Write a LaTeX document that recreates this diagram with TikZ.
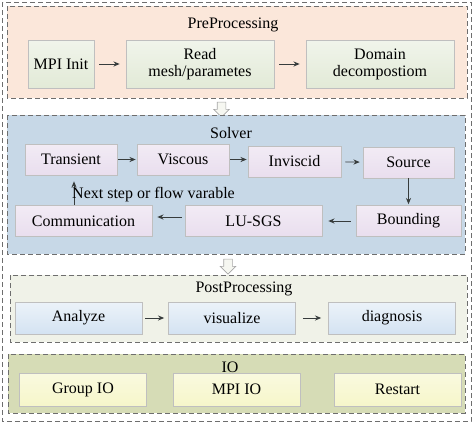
\documentclass[tikz,border=0pt]{standalone}
\usepackage{fontspec}
\setmainfont{Liberation Serif}
\usepackage{tikz}
\usetikzlibrary{arrows.meta,positioning,shapes.arrows}
\definecolor{frame}{RGB}{110,110,110}
\definecolor{ink}{RGB}{55,60,60}
\definecolor{prefill}{RGB}{251,231,218}
\definecolor{prebox}{RGB}{226,234,215}
\definecolor{solfill}{RGB}{199,216,231}
\definecolor{solbox}{RGB}{233,222,238}
\definecolor{postfill}{RGB}{240,242,232}
\definecolor{postbox}{RGB}{212,227,242}
\definecolor{iofill}{RGB}{214,220,182}
\definecolor{iobox}{RGB}{246,246,202}

\begin{document}
\begin{tikzpicture}[
  x=1pt, y=-1pt,
  font=\fontsize{16}{17}\selectfont,
  panel/.style={draw=frame, dashed, line width=0.9pt, dash pattern=on 5pt off 3pt},
  box/.style={draw=black!25, line width=0.6pt, align=center, inner sep=2pt},
  prestep/.style={box, top color=prebox!50, bottom color=prebox, minimum width=148pt, minimum height=48pt},
  solstep/.style={box, top color=solbox!60, bottom color=solbox, minimum height=31pt},
  poststep/.style={box, top color=postbox!45, bottom color=postbox, minimum width=127pt, minimum height=32pt},
  iostep/.style={box, top color=iobox!60, bottom color=iobox, minimum width=127pt, minimum height=33pt},
  arr/.style={-{Stealth[length=2.2mm,width=1.8mm]}, line width=0.9pt, ink, shorten <=5pt, shorten >=6pt},
  flow/.style={single arrow, draw=black!35, fill=postfill!60, line width=0.6pt, shape border rotate=270,
    inner sep=4pt, single arrow head extend=3.5pt, single arrow head indent=0pt, minimum height=15pt},
]
\useasboundingbox (0,0) rectangle (474,426);
% outer frame
\draw[panel] (2.5,2) rectangle (471,421.5);
% preprocessing
\draw[panel, fill=prefill] (7,6) rectangle (467,98);
\node (pretitle) at (233,25) {PreProcessing};
\node[prestep, minimum width=66pt] (mpi) at (61,64) {MPI Init};
\node[prestep] (read) at (200,64) {Read\\mesh/parametes};
\node[prestep] (domain) at (380,64) {Domain\\decompostiom};
\draw[arr] (mpi) -- (read);
\draw[arr] (read) -- (domain);
\node[flow] (flowa) at (221.5,107.5) {};
% solver
\draw[panel, fill=solfill] (7,115) rectangle (465,254);
\node (soltitle) at (231,133) {Solver};
\node[solstep, minimum width=92pt] (transient) at (71,159.5) {Transient};
\node[solstep, minimum width=92pt] (viscous) at (183,159.5) {Viscous};
\node[solstep, minimum width=93pt] (inviscid) at (294.5,161.5) {Inviscid};
\node[solstep, minimum width=91pt] (source) at (408.5,162.5) {Source};
\node[solstep, minimum width=105pt] (bounding) at (408.5,221) {Bounding};
\node[solstep, minimum width=137pt] (lusgs) at (253.5,221) {LU-SGS};
\node[solstep, minimum width=137pt] (comm) at (83.5,221) {Communication};
\draw[arr, shorten <=1pt, shorten >=1pt] (transient) -- (viscous);
\draw[arr, shorten <=1pt, shorten >=1pt] (viscous.east) -- (inviscid.west |- viscous.east);
\draw[arr, shorten <=4pt, shorten >=3pt] (inviscid) -- (source);
\draw[arr, shorten <=0pt, shorten >=1pt] (source) -- (bounding);
\draw[arr] (bounding) -- (lusgs);
\draw[arr, shorten <=3pt, shorten >=5pt] (lusgs.west |- 0,217) -- (comm.east |- 0,217);
\draw[arr, shorten <=0pt, shorten >=6pt] (comm.north -| 74,0) -- (transient.south -| 74,0);
\node[anchor=west, inner sep=0pt] (nextlabel) at (72,195) {Next step or flow varable};
\node[flow] (flowb) at (228,264.5) {};
% postprocessing
\draw[panel, fill=postfill] (10,275) rectangle (467,342);
\node (posttitle) at (244,289) {PostProcessing};
\node[poststep] (analyze) at (78.5,318) {Analyze};
\node[poststep] (visualize) at (232,318) {visualize};
\node[poststep] (diagnosis) at (392,318) {diagnosis};
\draw[arr, shorten <=3pt, shorten >=4pt] (analyze) -- (visualize);
\draw[arr, shorten <=7pt, shorten >=7pt] (visualize) -- (diagnosis);
% io
\draw[panel, fill=iofill] (8,354) rectangle (465,413);
\node (iotitle) at (230,367) {IO};
\node[iostep] (groupio) at (83,389.5) {Group IO};
\node[iostep] (mpiio) at (236.5,389.5) {MPI IO};
\node[iostep] (restart) at (397.5,389.5) {Restart};
\end{tikzpicture}
\end{document}
